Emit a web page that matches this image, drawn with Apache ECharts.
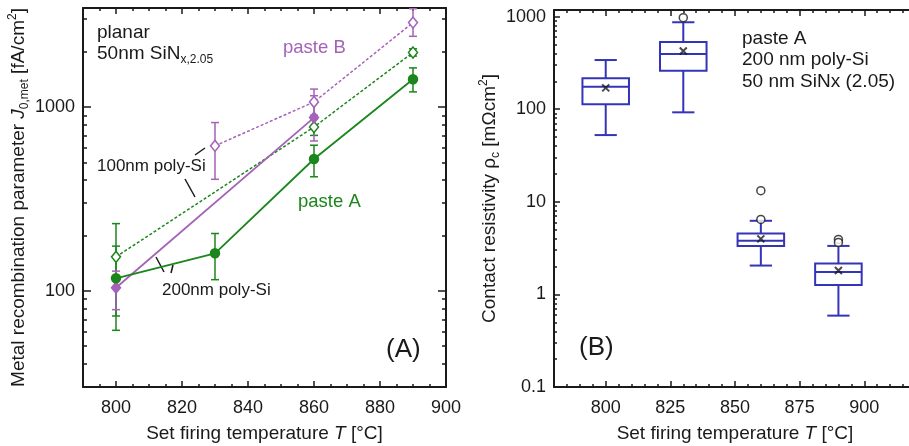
<!DOCTYPE html>
<html>
<head>
<meta charset="utf-8">
<script src="https://cdn.jsdelivr.net/npm/echarts@6/dist/echarts.min.js"></script>
<style>
  html, body { margin: 0; padding: 0; background: #fff; }
  #chart { width: 909px; height: 446px; }
</style>
</head>
<body>
<div id="chart"></div>
<script>
// (A) J0,met vs firing temperature
const tempA200 = [800, 830, 860, 890]
const jA200 = [117, 160, 521, 1413]
const jA200Lo = [61, 115, 417, 1207]
const jA200Hi = [175, 205, 619, 1630]

const tempA100 = [800, 860, 890]
const jA100 = [153, 778, 1976]
const jA100Lo = [73, 700, 1890]
const jA100Hi = [232, 860, 2070]

const tempB100 = [830, 860, 890]
const jB100 = [614, 1064, 2875]
const jB100Lo = [404, 901, 2420]
const jB100Hi = [822, 1250, 3420]

const tempB200 = [800, 860]
const jB200 = [104, 875]
const jB200Lo = [79, 653]
const jB200Hi = [128, 1150]

// (B) contact resistivity box plots
const boxTemp = [800, 830, 860, 890]
const boxLow = [52.6, 92.6, 2.05, 0.59]
const boxQ1 = [113, 261, 3.34, 1.26]
const boxMedian = [175, 395, 3.79, 1.75]
const boxQ3 = [216, 532, 4.55, 2.16]
const boxHigh = [340, 870, 6.24, 3.34]
const boxMean = [170, 426, 3.98, 1.81]
const outlierTemp = [830, 860, 860, 890, 890]
const outlierVal = [975, 13.2, 6.45, 3.92, 3.64]

// tick labels
const xTicksA = [800, 820, 840, 860, 880, 900]
const xMinorA = [795, 805, 810, 815, 825, 830, 835, 845, 850, 855, 865, 870, 875, 885, 890, 895]
const yTicksA = [100, 1000]
const yMinorA = [30, 40, 50, 60, 70, 80, 90, 200, 300, 400, 500, 600, 700, 800, 900, 2000, 3000]
const xTicksB = [800, 825, 850, 875, 900]
const xMinorB = [785, 790, 795, 805, 810, 815, 820, 830, 835, 840, 845, 855, 860, 865, 870, 880, 885, 890, 895, 905, 910, 915]
const yTicksB = [0.1, 1, 10, 100, 1000]
const yMinorB = [0.2, 0.3, 0.4, 0.5, 0.6, 0.7, 0.8, 0.9, 2, 3, 4, 5, 6, 7, 8, 9, 20, 30, 40, 50, 60, 70, 80, 90, 200, 300, 400, 500, 600, 700, 800, 900]

const FONT = 'Liberation Sans, Arial, sans-serif'
const GREEN = '#1b861b'
const PURPLE = '#a462b8'
const BLUE = '#3434b8'
const INK = '#1a1a1a'

const chart = echarts.init(document.getElementById('chart'))

const zip = (xs, ys) => xs.map((x, i) => [x, ys[i]])
const zip3 = (xs, a, b) => xs.map((x, i) => [x, a[i], b[i]])

function axis(opt) {
  const { major, len, lineW, labels, line } = opt
  const ticks = major ? opt.ticks : opt.minorTicks
  return {
    gridIndex: opt.grid,
    type: opt.type,
    position: opt.position,
    min: opt.min,
    max: opt.max,
    logBase: 10,
    name: opt.name || '',
    nameLocation: 'middle',
    nameGap: opt.nameGap,
    nameTextStyle: opt.nameTextStyle,
    splitLine: { show: false },
    axisLine: { show: line !== false && major, onZero: false, lineStyle: { color: INK, width: lineW || 2 } },
    axisTick: {
      show: true,
      inside: true,
      length: major ? len : Math.round(len * 0.55),
      customValues: ticks,
      lineStyle: { color: INK, width: 1.5 }
    },
    axisLabel: {
      show: !!labels && major,
      customValues: ticks,
      margin: opt.margin || 10,
      color: INK,
      fontFamily: FONT,
      fontSize: 18,
      formatter: v => String(v)
    }
  }
}

const nameStyle = {
  color: INK,
  fontFamily: FONT,
  fontSize: 19,
  lineHeight: 24,
  rich: {
    it: { fontFamily: FONT, fontSize: 19, fontStyle: 'italic', color: INK, lineHeight: 24 },
    sub: { fontFamily: FONT, fontSize: 12, color: INK, verticalAlign: 'bottom', lineHeight: 13 },
    sup: { fontFamily: FONT, fontSize: 12, color: INK, verticalAlign: 'top', lineHeight: 13 }
  }
}
const nameStyleB = Object.assign({}, nameStyle, { padding: [0, 0, 0, 7] })

const xName = 'Set firing temperature {it|T} [°C]'

const xA = { grid: 0, type: 'value', min: 790, max: 900, ticks: xTicksA, minorTicks: xMinorA, len: 6 }
const yA = { grid: 0, type: 'log', min: 30, max: 3450, ticks: yTicksA, minorTicks: yMinorA, len: 8 }
const xB = { grid: 1, type: 'value', min: 780, max: 917.3, ticks: xTicksB, minorTicks: xMinorB, len: 6 }
const yB = { grid: 1, type: 'log', min: 0.1, max: 1180, ticks: yTicksB, minorTicks: yMinorB, len: 6 }

const xAxes = [
  axis({ ...xA, position: 'bottom', major: true, labels: true, margin: 12, name: xName, nameGap: 35, nameTextStyle: nameStyle }),
  axis({ ...xA, position: 'bottom', major: false }),
  axis({ ...xA, position: 'top', major: true }),
  axis({ ...xA, position: 'top', major: false }),
  axis({ ...xB, position: 'bottom', major: true, labels: true, margin: 12, name: xName, nameGap: 35, nameTextStyle: nameStyleB }),
  axis({ ...xB, position: 'bottom', major: false }),
  axis({ ...xB, position: 'top', major: true }),
  axis({ ...xB, position: 'top', major: false })
]

const yAxes = [
  axis({ ...yA, position: 'left', major: true, labels: true, margin: 8,
    name: 'Metal recombination parameter {it|J}{sub|0,met} [fA/cm{sup|2}]', nameGap: 52, nameTextStyle: nameStyle }),
  axis({ ...yA, position: 'left', major: false }),
  axis({ ...yA, position: 'right', major: true }),
  axis({ ...yA, position: 'right', major: false }),
  axis({ ...yB, position: 'left', major: true, labels: true, margin: 8,
    name: 'Contact resistivity ρ{sub|c} [mΩcm{sup|2}]', nameGap: 52, nameTextStyle: nameStyle }),
  axis({ ...yB, position: 'left', major: false })
]

function errorBars(color) {
  return function (params, api) {
    const x = api.value(0)
    const lo = api.coord([x, api.value(1)])
    const hi = api.coord([x, api.value(2)])
    const w = 4
    const st = { stroke: color, lineWidth: 1.5 }
    return {
      type: 'group',
      children: [
        { type: 'line', shape: { x1: lo[0], y1: lo[1], x2: hi[0], y2: hi[1] }, style: st },
        { type: 'line', shape: { x1: lo[0] - w, y1: lo[1], x2: lo[0] + w, y2: lo[1] }, style: st },
        { type: 'line', shape: { x1: hi[0] - w, y1: hi[1], x2: hi[0] + w, y2: hi[1] }, style: st }
      ]
    }
  }
}

function errSeries(xs, lo, hi, color) {
  return {
    type: 'custom',
    xAxisIndex: 0,
    yAxisIndex: 0,
    renderItem: errorBars(color),
    encode: { x: 0, y: [1, 2] },
    data: zip3(xs, lo, hi),
    z: 2,
    silent: true
  }
}

function lineSeries(xs, ys, color, dashed, symbol, filled) {
  return {
    type: 'line',
    xAxisIndex: 0,
    yAxisIndex: 0,
    data: zip(xs, ys),
    lineStyle: { color: color, width: dashed ? 1.5 : 1.8, type: dashed ? [3, 2] : 'solid' },
    symbol: symbol,
    symbolSize: symbol === 'diamond' ? [9, 11] : 9,
    itemStyle: { color: filled ? color : '#fff', borderColor: color, borderWidth: 1.5 },
    z: 3,
    silent: true
  }
}

function boxRender(params, api) {
  const x = api.value(0)
  const hw = 9
  const cw = 4.3
  const p = k => api.value(k)
  const lowL = api.coord([x - cw, p(1)])
  const lowR = api.coord([x + cw, p(1)])
  const q1L = api.coord([x - hw, p(2)])
  const q1R = api.coord([x + hw, p(2)])
  const medL = api.coord([x - hw, p(3)])
  const medR = api.coord([x + hw, p(3)])
  const q3L = api.coord([x - hw, p(4)])
  const highL = api.coord([x - cw, p(5)])
  const highR = api.coord([x + cw, p(5)])
  const cx = api.coord([x, p(3)])[0]
  const st = { stroke: BLUE, lineWidth: 2, fill: null }
  const ln = (x1, y1, x2, y2) => ({ type: 'line', shape: { x1, y1, x2, y2 }, style: st })
  return {
    type: 'group',
    children: [
      { type: 'rect', shape: { x: q3L[0], y: q3L[1], width: q1R[0] - q1L[0], height: q1L[1] - q3L[1] }, style: { stroke: BLUE, lineWidth: 2, fill: 'rgba(0,0,0,0)' } },
      ln(medL[0], medL[1], medR[0], medR[1]),
      ln(cx, q1L[1], cx, lowL[1]),
      ln(cx, q3L[1], cx, highL[1]),
      ln(lowL[0], lowL[1], lowR[0], lowR[1]),
      ln(highL[0], highL[1], highR[0], highR[1])
    ]
  }
}

const boxData = boxTemp.map((t, i) => [t, boxLow[i], boxQ1[i], boxMedian[i], boxQ3[i], boxHigh[i]])

const txt = (x, y, text, extra) => ({
  type: 'text',
  left: x,
  top: y,
  style: Object.assign({ text: text, fill: INK, font: '19px ' + FONT }, extra || {}),
  silent: true
})
const seg = (x1, y1, x2, y2) => ({
  type: 'line',
  shape: { x1, y1, x2, y2 },
  style: { stroke: INK, lineWidth: 1.5 },
  silent: true
})

const option = {
  animation: false,
  backgroundColor: '#fff',
  grid: [
    { left: 83, top: 8, width: 363, height: 379, outerBoundsMode: 'none', containLabel: false },
    { left: 554, top: 10, width: 355, height: 377, outerBoundsMode: 'none', containLabel: false }
  ],
  xAxis: xAxes,
  yAxis: yAxes,
  series: [
    errSeries(tempA200, jA200Lo, jA200Hi, GREEN),
    errSeries(tempA100, jA100Lo, jA100Hi, GREEN),
    errSeries(tempB100, jB100Lo, jB100Hi, PURPLE),
    errSeries(tempB200, jB200Lo, jB200Hi, PURPLE),
    lineSeries(tempA100, jA100, GREEN, true, 'diamond', false),
    lineSeries(tempB100, jB100, PURPLE, true, 'diamond', false),
    lineSeries(tempB200, jB200, PURPLE, false, 'diamond', true),
    lineSeries(tempA200, jA200, GREEN, false, 'circle', true),
    {
      type: 'custom',
      xAxisIndex: 4,
      yAxisIndex: 4,
      renderItem: boxRender,
      encode: { x: 0, y: [1, 2, 3, 4, 5] },
      data: boxData,
      silent: true
    },
    {
      type: 'scatter',
      xAxisIndex: 4,
      yAxisIndex: 4,
      data: zip(boxTemp, boxMean),
      symbol: 'path://M0,0L10,10M10,0L0,10',
      symbolSize: 7,
      itemStyle: { color: 'none', borderColor: INK, borderWidth: 2 },
      silent: true
    },
    {
      type: 'scatter',
      xAxisIndex: 4,
      yAxisIndex: 4,
      data: zip(outlierTemp, outlierVal),
      symbol: 'circle',
      symbolSize: 8,
      itemStyle: { color: '#fff', borderColor: INK, borderWidth: 1.5 },
      silent: true
    }
  ],
  graphic: [
    txt(97, 23, 'planar'),
    txt(97, 42, '50nm SiN{sub|x,2.05}', {
      rich: { sub: { font: '12px ' + FONT, fill: INK, verticalAlign: 'bottom', lineHeight: 13 } },
      lineHeight: 24
    }),
    txt(283, 38, 'paste B', { fill: PURPLE, font: '18.5px ' + FONT }),
    txt(97, 158, '100nm poly-Si', { font: '17px ' + FONT }),
    txt(298, 192, 'paste A', { fill: GREEN, font: '18.5px ' + FONT }),
    txt(162, 282, '200nm poly-Si', { font: '17px ' + FONT }),
    txt(386, 337, '(A)', { font: '26px ' + FONT }),
    seg(195, 155, 205, 148),
    seg(185, 179, 195, 197),
    seg(156, 257, 164, 272),
    seg(173, 265, 171, 273),
    txt(742, 29, 'paste A'),
    txt(742, 50, '200 nm poly-Si'),
    txt(742, 72, '50 nm SiNx (2.05)'),
    txt(579, 335, '(B)', { font: '26px ' + FONT })
  ]
}

chart.setOption(option)
</script>
</body>
</html>
